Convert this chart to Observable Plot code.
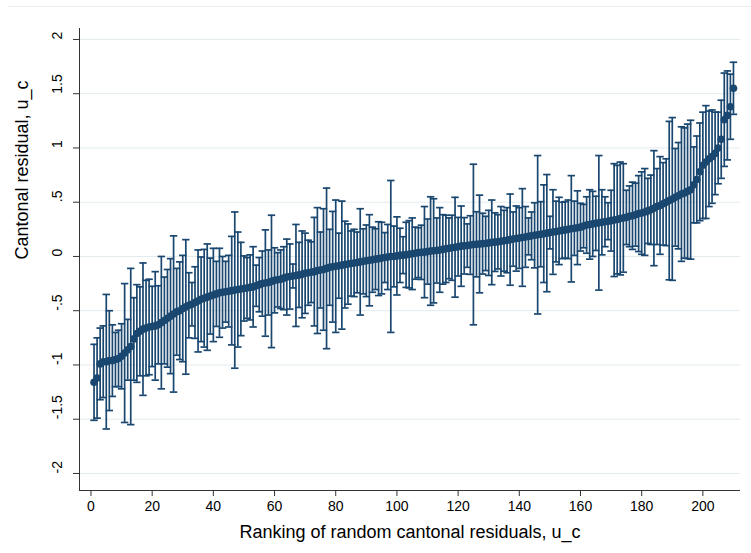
<!DOCTYPE html>
<html><head><meta charset="utf-8">
<script src="https://cdn.jsdelivr.net/npm/d3@7"></script>
<script src="https://cdn.jsdelivr.net/npm/@observablehq/plot@0.6"></script>
<style>
body{margin:0;background:#fff;}
#chart{width:751px;height:553px;position:relative;overflow:hidden;}
#chart::before{content:"";position:absolute;left:8px;right:0;top:6px;border-top:1px solid #ececec;}
</style></head><body><div id="chart"></div>
<script>
// Point estimates (sorted cantonal residuals), rank 1..210
const estimates = [
 -1.16,-1.12,-0.99,-0.97,-0.97,-0.96,-0.96,-0.95,-0.94,-0.92,
 -0.89,-0.86,-0.83,-0.76,-0.71,-0.69,-0.67,-0.66,-0.65,-0.645,
 -0.64,-0.63,-0.61,-0.59,-0.57,-0.55,-0.53,-0.51,-0.50,-0.48,
 -0.465,-0.45,-0.44,-0.425,-0.41,-0.395,-0.385,-0.375,-0.365,-0.355,
 -0.345,-0.335,-0.33,-0.325,-0.32,-0.315,-0.31,-0.305,-0.30,-0.295,
 -0.29,-0.285,-0.28,-0.27,-0.26,-0.25,-0.245,-0.24,-0.23,-0.22,
 -0.215,-0.21,-0.20,-0.19,-0.185,-0.18,-0.175,-0.17,-0.165,-0.155,
 -0.15,-0.145,-0.14,-0.13,-0.125,-0.12,-0.11,-0.10,-0.095,-0.09,
 -0.085,-0.08,-0.075,-0.07,-0.065,-0.06,-0.055,-0.05,-0.045,-0.04,
 -0.035,-0.03,-0.025,-0.02,-0.015,-0.01,-0.005,0.0,0.0,0.005,
 0.01,0.012,0.015,0.02,0.025,0.03,0.035,0.038,0.04,0.045,
 0.05,0.052,0.055,0.06,0.065,0.07,0.075,0.08,0.085,0.09,
 0.095,0.098,0.10,0.105,0.11,0.112,0.115,0.118,0.12,0.125,
 0.13,0.132,0.135,0.14,0.145,0.15,0.155,0.16,0.165,0.17,
 0.175,0.18,0.185,0.19,0.195,0.20,0.205,0.21,0.215,0.22,
 0.225,0.23,0.235,0.24,0.245,0.25,0.255,0.26,0.265,0.27,
 0.28,0.29,0.295,0.30,0.305,0.31,0.315,0.32,0.325,0.33,
 0.335,0.34,0.35,0.355,0.36,0.37,0.375,0.385,0.395,0.40,
 0.41,0.42,0.43,0.445,0.46,0.47,0.485,0.50,0.515,0.53,
 0.545,0.56,0.575,0.585,0.60,0.615,0.66,0.71,0.78,0.84,
 0.87,0.90,0.92,0.95,1.00,1.08,1.26,1.30,1.38,1.55
];
// Half-width of each confidence interval
const halfWidths = [
 0.35,0.37,0.33,0.33,0.62,0.46,0.33,0.25,0.26,0.30,
 0.64,0.28,0.72,0.38,0.45,0.41,0.61,0.44,0.44,0.37,
 0.50,0.36,0.61,0.40,0.45,0.53,0.72,0.40,0.45,0.49,
 0.62,0.30,0.20,0.33,0.47,0.39,0.45,0.49,0.35,0.43,
 0.30,0.41,0.33,0.28,0.33,0.50,0.72,0.53,0.43,0.30,
 0.28,0.30,0.37,0.19,0.25,0.30,0.49,0.30,0.61,0.30,
 0.25,0.27,0.29,0.35,0.30,0.11,0.47,0.30,0.40,0.37,
 0.30,0.28,0.50,0.58,0.35,0.56,0.74,0.35,0.51,0.61,
 0.30,0.59,0.40,0.37,0.30,0.31,0.28,0.49,0.30,0.33,
 0.42,0.30,0.28,0.34,0.33,0.23,0.30,0.70,0.28,0.36,
 0.25,0.17,0.30,0.31,0.33,0.24,0.23,0.25,0.42,0.30,
 0.50,0.48,0.30,0.39,0.32,0.31,0.28,0.30,0.46,0.27,
 0.37,0.26,0.20,0.27,0.74,0.30,0.45,0.28,0.25,0.30,
 0.39,0.27,0.25,0.32,0.28,0.30,0.42,0.25,0.30,0.28,
 0.45,0.28,0.17,0.22,0.30,0.73,0.30,0.45,0.54,0.15,
 0.39,0.28,0.31,0.26,0.26,0.27,0.49,0.25,0.34,0.22,
 0.20,0.26,0.32,0.30,0.25,0.62,0.30,0.23,0.17,0.28,
 0.52,0.50,0.52,0.50,0.25,0.28,0.31,0.29,0.35,0.38,
 0.40,0.30,0.32,0.53,0.35,0.45,0.38,0.40,0.73,0.75,
 0.45,0.49,0.62,0.60,0.62,0.64,0.35,0.40,0.45,0.49,
 0.52,0.44,0.43,0.38,0.33,0.36,0.43,0.41,0.30,0.24
];
const yTicks = [-2,-1.5,-1,-0.5,0,0.5,1,1.5,2];
const yTickLabels = ["-2","-1.5","-1","-.5","0",".5","1","1.5","2"];
const xTicks = [0,20,40,60,80,100,120,140,160,180,200];
const xTitle = "Ranking of random cantonal residuals, u_c";
const yTitle = "Cantonal residual, u_c";
const xDomain = [-3.75, 212.3];
const yDomain = [-2.157, 2.101];

const col = "#1a476f";
const data = estimates.map((e, i) => ({rank: i + 1, est: e, lo: e - halfWidths[i], hi: e + halfWidths[i]}));
const capSymbol = {draw(ctx, size) { const w = Math.sqrt(size / Math.PI); ctx.moveTo(-w, 0); ctx.lineTo(w, 0); }};

const chart = Plot.plot({
  width: 751, height: 553,
  marginLeft: 79, marginRight: 11, marginTop: 28, marginBottom: 63,
  x: {domain: xDomain},
  y: {domain: yDomain},
  style: {fontFamily: "'Liberation Sans', Arial, sans-serif", background: "transparent", color: "#000"},
  marks: [
    Plot.ruleY(yTicks, {stroke: "#e2ebef", strokeWidth: 1}),
    Plot.ruleX(data, {x: "rank", y1: "lo", y2: "hi", stroke: col, strokeWidth: 1.7}),
    Plot.dot(data, {x: "rank", y: "lo", symbol: capSymbol, r: 3.7, stroke: col, strokeWidth: 1.7, fill: "none"}),
    Plot.dot(data, {x: "rank", y: "hi", symbol: capSymbol, r: 3.7, stroke: col, strokeWidth: 1.7, fill: "none"}),
    Plot.dot(data, {x: "rank", y: "est", r: 3.8, fill: col, stroke: "none"}),
    Plot.ruleX([xDomain[0]], {stroke: "#333", strokeWidth: 1}),
    Plot.ruleY([yDomain[0]], {stroke: "#333", strokeWidth: 1}),
    Plot.axisY({ticks: yTicks, tickSize: 6, tickFormat: () => "", label: null, stroke: "#333"}),
    Plot.text(yTicks, {y: d => d, frameAnchor: "left", dx: -22, rotate: -90, text: (d, i) => yTickLabels[i], fontSize: 14, fill: "#000"}),
    Plot.axisX({ticks: xTicks, tickSize: 6, tickPadding: 5, fontSize: 14, label: null, stroke: "#333", fill: "#000"}),
    Plot.text([xTitle], {frameAnchor: "bottom", dy: 47, text: d => d, fontSize: 18, fill: "#000"}),
    Plot.text([yTitle], {frameAnchor: "left", dx: -57, rotate: -90, text: d => d, fontSize: 18, fill: "#000"})
  ]
});
document.getElementById("chart").appendChild(chart);
</script></body></html>
